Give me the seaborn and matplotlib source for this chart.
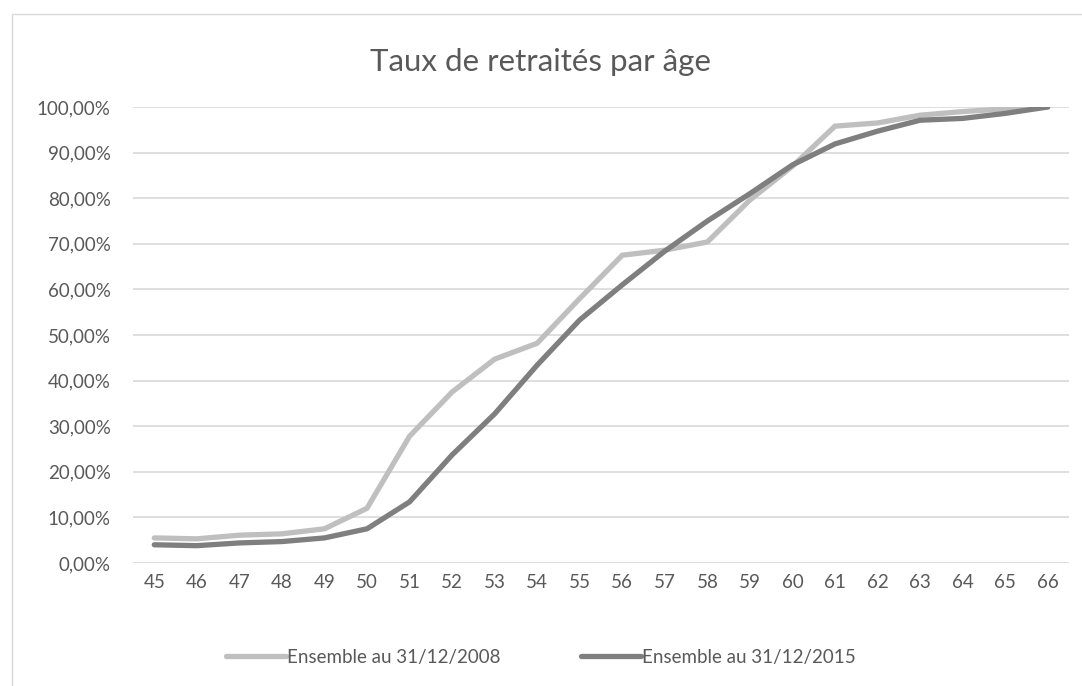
import pandas as pd
import matplotlib.pyplot as plt
import seaborn as sns
from matplotlib.patches import Rectangle
from matplotlib.ticker import FuncFormatter

# Données
ages = list(range(45, 67))
taux_2008 = [5.5, 5.3, 6.1, 6.4, 7.5, 12.0, 27.8, 37.5, 44.7, 48.2, 58.0, 67.5,
             68.6, 70.4, 79.6, 87.0, 95.8, 96.5, 98.2, 99.0, 99.6, 100.0]
taux_2015 = [4.0, 3.8, 4.4, 4.7, 5.5, 7.5, 13.4, 23.7, 32.7, 43.4, 53.3, 61.0,
             68.4, 75.0, 81.0, 87.3, 91.9, 94.7, 97.1, 97.5, 98.6, 100.0]
series = ['Ensemble au 31/12/2008', 'Ensemble au 31/12/2015']
couleurs = ['#BFBFBF', '#7F7F7F']

df = pd.DataFrame({
    'age': ages * 2,
    'taux': [v / 100 for v in taux_2008 + taux_2015],
    'serie': [series[0]] * len(ages) + [series[1]] * len(ages),
})
df['pos'] = df['age'] - ages[0]

sns.set_theme(style='white')
plt.rcParams['font.family'] = ['Lato', 'DejaVu Sans']
gris_texte = '#595959'

fig = plt.figure(figsize=(10.82, 6.86), dpi=100)
ax = fig.add_axes([133 / 1082, 1 - 563 / 686, (1069 - 133) / 1082, (563 - 107) / 686])

sns.lineplot(data=df, x='pos', y='taux', hue='serie', palette=couleurs,
             linewidth=3.8, ax=ax, solid_capstyle='round', solid_joinstyle='round',
             legend=False, zorder=3)

ax.set_xlim(-0.5, len(ages) - 0.5)
ax.set_ylim(0, 1)
ax.set_xticks(range(len(ages)))
ax.set_xticklabels([str(a) for a in ages])
ax.set_yticks([i / 10 for i in range(11)])
ax.yaxis.set_major_formatter(FuncFormatter(lambda v, p: f'{v * 100:.2f}%'.replace('.', ',')))
ax.tick_params(axis='both', colors=gris_texte, labelsize=13.5, length=0)
ax.tick_params(axis='x', pad=8)
ax.tick_params(axis='y', pad=16)
ax.grid(axis='y', color='#D9D9D9', linewidth=1.2, zorder=0)
ax.set_axisbelow(True)
for s in ax.spines.values():
    s.set_visible(False)
ax.set_xlabel('')
ax.set_ylabel('')

fig.text(0.5, 1 - 62 / 686, 'Taux de retraités par âge', ha='center', va='center',
         fontsize=22.5, color=gris_texte)

# Légende
handles = [plt.Line2D([0], [0], color=c, linewidth=3.8, solid_capstyle='round') for c in couleurs]
fig.legend(handles, series, loc='center', bbox_to_anchor=(0.5, 1 - 657 / 686), ncol=2,
           frameon=False, fontsize=13.5, labelcolor=gris_texte, handlelength=3.2,
           handletextpad=0.05, columnspacing=4.3)

# Cadre du graphique
fig.patches.append(Rectangle((12 / 1082, -0.01), 1.0, 1 - 14 / 686 + 0.01,
                             transform=fig.transFigure, fill=False,
                             edgecolor='#D9D9D9', linewidth=1))

fig.savefig('out.png', dpi=100)
